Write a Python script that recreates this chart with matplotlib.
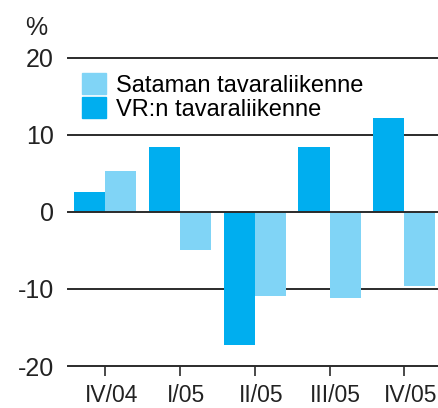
import numpy as np
import matplotlib.pyplot as plt
from matplotlib.patches import Patch
import matplotlib.transforms as mtransforms

plt.rcParams['font.family'] = ['Liberation Sans', 'DejaVu Sans']

categories = ["IV/04", "I/05", "II/05", "III/05", "IV/05"]
vr_values = [2.6, 8.4, -17.3, 8.4, 12.2]
satama_values = [5.3, -5.0, -10.9, -11.2, -9.6]
yticks = [-20, -10, 0, 10, 20]

DARK = "#00aeef"
LIGHT = "#80d4f6"
LINE = "#2b2b2b"

fig = plt.figure(figsize=(4.38, 4.08), dpi=100)
ax = fig.add_axes([68 / 438, 1 - 366 / 408, 1 - 68 / 438, (366 - 57.7) / 408])

x = np.arange(len(categories))
w = 0.416
ax.bar(x - w / 2, vr_values, w, color=DARK, zorder=2)
ax.bar(x + w / 2, satama_values, w, color=LIGHT, zorder=2)

for yv in yticks:
    ax.axhline(yv, color=LINE, lw=1.4, zorder=3 if yv == 0 else 1, clip_on=False)

ax.set_xlim(-0.497, 4.45)
ax.set_ylim(-20, 20)
ax.set_yticks(yticks)
ax.set_yticklabels([str(v) for v in yticks], fontsize=18, color="#222222")
ax.tick_params(axis="y", length=0, pad=10)
ax.set_xticks(x)
ax.set_xticklabels(categories, fontsize=16.5, color="#222222")
ax.tick_params(axis="x", length=7, width=1.2, color=LINE, direction="out", pad=6)
offset = mtransforms.ScaledTranslation(6 / 100, 0, fig.dpi_scale_trans)
for lab in ax.get_xticklabels():
    lab.set_transform(lab.get_transform() + offset)

for s in ax.spines.values():
    s.set_visible(False)

fig.text(25 / 438, 1 - 35 / 408, "%", fontsize=18, color="#222222", ha="left", va="baseline")

handles = [Patch(color=LIGHT), Patch(color=DARK)]
ax.legend(handles, ["Sataman tavaraliikenne", "VR:n tavaraliikenne"],
          loc="upper left", bbox_to_anchor=(14 / 370, (366 - 73) / 308.6),
          frameon=False, fontsize=17, handlelength=1.0, handleheight=1.0,
          handletextpad=0.45, labelspacing=0.0, borderaxespad=0, borderpad=0)

fig.savefig("out.png", dpi=100)
